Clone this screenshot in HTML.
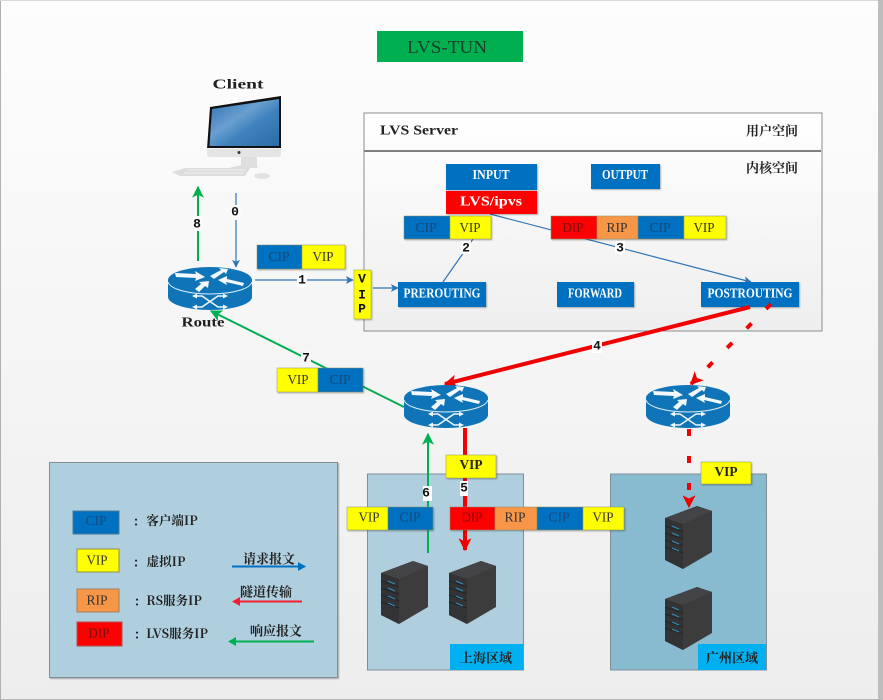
<!DOCTYPE html>
<html><head><meta charset="utf-8"><style>
html,body{margin:0;padding:0;background:#f4f4f4}
svg{display:block}
text{font-family:"Liberation Serif","Noto Serif CJK SC",serif;text-anchor:middle;dominant-baseline:central}
.b{font-weight:bold;font-size:14px;fill:#222}
.w{font-weight:bold;font-size:14px;fill:#fff}
.t{font-size:13.500px;fill:#333}
.tb{font-size:13.500px;fill:#174a7c}
.c{font-family:"Noto Serif CJK SC","Liberation Serif",serif;font-weight:bold;font-size:13px;fill:#222}
.n{font-family:"Liberation Mono",monospace;font-weight:bold;font-size:13px;fill:#111}
.lbg{fill:#fff}
</style></head><body>
<svg width="883" height="700" viewBox="0 0 883 700" xmlns="http://www.w3.org/2000/svg">
<defs>
<linearGradient id="bg" x1="0" y1="0" x2="0" y2="1"><stop offset="0" stop-color="#fdfdfd"/><stop offset="1" stop-color="#ededed"/></linearGradient>
<linearGradient id="box" x1="0" y1="0" x2="0" y2="1"><stop offset="0" stop-color="#ffffff"/><stop offset="1" stop-color="#eeeeee"/></linearGradient>
<linearGradient id="scr" x1="0" y1="0" x2="1" y2="1"><stop offset="0" stop-color="#2c6fb0"/><stop offset="0.4" stop-color="#6a9fd0"/><stop offset="0.6" stop-color="#3f82bd"/><stop offset="1" stop-color="#2a6ca6"/></linearGradient>
<marker id="ab" viewBox="0 0 10 10" refX="9" refY="5" markerWidth="8" markerHeight="8" markerUnits="userSpaceOnUse" orient="auto"><path d="M0 0L10 5L0 10L2.500 5Z" fill="#2e75b6"/></marker>
<marker id="ag" viewBox="0 0 10 10" refX="9" refY="5" markerWidth="12" markerHeight="12" markerUnits="userSpaceOnUse" orient="auto"><path d="M0 0L10 5L0 10L2.500 5Z" fill="#00b050"/></marker>
<marker id="ar" viewBox="0 0 10 10" refX="9" refY="5" markerWidth="13" markerHeight="13" markerUnits="userSpaceOnUse" orient="auto"><path d="M0 0L10 5L0 10L2.500 5Z" fill="#f00000"/></marker>
<filter id="s" x="-10%" y="-10%" width="125%" height="125%"><feDropShadow dx="1" dy="1" stdDeviation="0.7" flood-color="#000" flood-opacity="0.3"/></filter>
<g id="router">
<path d="M0 13V30C0 37 19 43 42 43S84 37 84 30V13Z" fill="#0f75b8"/>
<ellipse cx="42" cy="13" rx="42" ry="13" fill="#0f75b8"/>
<path d="M0 15C2 22 20 27 42 27S82 22 84 15" fill="none" stroke="#dff0fa" stroke-width="1"/>
<path d="M7 6L28 7L27 4L37 10L27 14L28 11L8 10Z M42 9L53 3L51 1L60 2L58 7L56 5L46 12Z M50 13L59 9L59 12L76 16L75 19L58 15L59 18Z M27 22L33 17L31 15L41 14L40 21L37 19L31 25Z" fill="#f2f8fc"/>
<path d="M28 29H34L50 40H56M28 40H34L50 29H56" fill="none" stroke="#f2f8fc" stroke-width="1.500"/>
<path d="M29 26.500L24 29L29 31.500ZM29 37.500L24 40L29 42.500ZM55 26.500L60 29L55 31.500ZM55 37.500L60 40L55 42.500Z" fill="#f2f8fc"/>
</g>
<g id="server">
<path d="M0 12L32 0L47 5V46L18 63L0 54Z" fill="#3c3c3c"/>
<path d="M0 12L32 0L47 5L18 18Z" fill="#444446"/>
<path d="M0 12L18 18V63L0 54Z" fill="#333335"/>
<path d="M0 20L18 26M0 27L18 33M0 34L18 40M0 41L18 47" stroke="#242424" stroke-width="1"/>
<path d="M7 20L14 23M7 27L14 30M7 35L14 38M7 42L14 45" stroke="#2f8fc0" stroke-width="1"/>
</g>
</defs>

<rect width="883" height="700" fill="url(#bg)"/>
<rect x="0" y="0" width="1" height="700" fill="#b0b0b0"/>
<rect x="0" y="0" width="883" height="1" fill="#d8d8d8"/>
<rect x="878" y="0" width="5" height="700" fill="#bdbdbd"/>
<rect x="0" y="699" width="883" height="1" fill="#b8b8b8"/>

<!-- title -->
<rect x="377" y="31" width="146" height="31" fill="#00b050"/>
<text x="447" y="47" textLength="80" lengthAdjust="spacingAndGlyphs" style="font-size:18px;fill:#17402a">LVS-TUN</text>

<!-- client -->
<text x="238" y="85" class="b" textLength="51" lengthAdjust="spacingAndGlyphs">Client</text>
<path d="M210 107L281 96V149H207Z" fill="#111"/>
<path d="M212 109L279 99V146H209.500Z" fill="url(#scr)"/>
<path d="M207 148H281V155Q281 157 278 157H210Q207 157 207 155Z" fill="#e4e4e4"/>
<path d="M207 148H281V149H207Z" fill="#f4f4f4"/>
<circle cx="239" cy="152.500" r="1.500" fill="#333"/>
<path d="M241 157H257V165L258 168H229L241 165Z" fill="#dedede"/>
<path d="M172 172L185 168H250L245 176H180Z" fill="#dcdcdc"/>
<path d="M188 170H246M184 173H244" stroke="#efefef" stroke-width="1"/>
<ellipse cx="262" cy="176" rx="8" ry="3" fill="#e2e2e2"/>

<!-- LVS server box -->
<rect x="364" y="113" width="458" height="218" fill="url(#box)" stroke="#8c8c8c" stroke-width="1"/>
<rect x="364" y="150" width="457" height="2" fill="#7f7f7f"/>
<text x="419" y="131" class="b" textLength="78" lengthAdjust="spacingAndGlyphs">LVS Server</text>
<text x="772" y="130" class="c">用户空间</text>
<text x="772" y="167" class="c">内核空间</text>

<!-- thin connectors (under tags) -->
<path d="M490 214L751 282" stroke="#2e75b6" stroke-width="1.200" fill="none" marker-end="url(#ab)"/>
<path d="M473 239L443 282" stroke="#2e75b6" stroke-width="1.200" fill="none"/>

<g filter="url(#s)">
<rect x="446" y="164" width="91" height="26" fill="#0070c0"/>
<rect x="446" y="191" width="91" height="23" fill="#ff0000"/>
<rect x="591" y="164" width="69" height="25" fill="#0070c0"/>
<rect x="398" y="282" width="88" height="25" fill="#0070c0"/>
<rect x="557" y="282" width="77" height="25" fill="#0070c0"/>
<rect x="701" y="282" width="98" height="25" fill="#0070c0"/>
</g>
<text x="491" y="175.500" class="w" textLength="37" lengthAdjust="spacingAndGlyphs">INPUT</text>
<text x="491" y="202" class="w" textLength="62" lengthAdjust="spacingAndGlyphs">LVS/ipvs</text>
<text x="625" y="175.500" class="w" textLength="46" lengthAdjust="spacingAndGlyphs">OUTPUT</text>
<text x="442" y="294" class="w" textLength="77" lengthAdjust="spacingAndGlyphs">PREROUTING</text>
<text x="595" y="294" class="w" textLength="54" lengthAdjust="spacingAndGlyphs">FORWARD</text>
<text x="750" y="294" class="w" textLength="85" lengthAdjust="spacingAndGlyphs">POSTROUTING</text>

<!-- tags in kernel -->
<g filter="url(#s)" stroke="#8f8f60" stroke-width="0.500">
<rect x="404" y="216" width="46" height="23" fill="#0070c0"/><rect x="450" y="216" width="41" height="23" fill="#ffff00"/>
<rect x="551" y="216" width="46" height="23" fill="#ff0000"/><rect x="597" y="216" width="41" height="23" fill="#f79646"/><rect x="638" y="216" width="46" height="23" fill="#0070c0"/><rect x="684" y="216" width="42" height="23" fill="#ffff00"/>
</g>
<text x="426" y="227.500" class="tb" textLength="21" lengthAdjust="spacingAndGlyphs">CIP</text><text x="470" y="227.500" class="t" textLength="21" lengthAdjust="spacingAndGlyphs">VIP</text>
<text x="573" y="227.500" class="t" style="fill:#7a1010" textLength="21" lengthAdjust="spacingAndGlyphs">DIP</text><text x="617" y="227.500" class="t" textLength="21" lengthAdjust="spacingAndGlyphs">RIP</text><text x="660" y="227.500" class="tb" textLength="21" lengthAdjust="spacingAndGlyphs">CIP</text><text x="704" y="227.500" class="t" textLength="21" lengthAdjust="spacingAndGlyphs">VIP</text>
<rect x="461" y="241" width="10" height="13" class="lbg"/><text x="466" y="248" class="n">2</text>
<rect x="615" y="241" width="10" height="13" class="lbg"/><text x="620" y="248" class="n">3</text>

<!-- client arrows -->
<path d="M198 261V187" stroke="#00b050" stroke-width="2" fill="none" marker-end="url(#ag)"/>
<rect x="192" y="216" width="11" height="15" fill="#fbfbfb"/><text x="197" y="224" class="n">8</text>
<path d="M236 193V267" stroke="#2e75b6" stroke-width="1.200" fill="none" marker-end="url(#ab)"/>
<rect x="231" y="205" width="10" height="15" fill="#fbfbfb"/><text x="235" y="212" class="n">0</text>

<use href="#router" x="168" y="267"/>
<text x="203" y="323" class="b" textLength="43" lengthAdjust="spacingAndGlyphs">Route</text>

<g filter="url(#s)" stroke="#8f8f60" stroke-width="0.500"><rect x="257" y="245" width="45" height="24" fill="#0070c0"/><rect x="302" y="245" width="43" height="24" fill="#ffff00"/></g>
<text x="279" y="256.500" class="tb" textLength="21" lengthAdjust="spacingAndGlyphs">CIP</text><text x="323" y="256.500" class="t" textLength="21" lengthAdjust="spacingAndGlyphs">VIP</text>
<path d="M255 280H353" stroke="#2e75b6" stroke-width="1.200" fill="none" marker-end="url(#ab)"/>
<rect x="297" y="273" width="10" height="14" fill="#fff"/><text x="302" y="280" class="n">1</text>
<g filter="url(#s)"><rect x="354" y="270" width="17" height="49" fill="#ffff00" stroke="#a8a850" stroke-width="0.600"/></g>
<text x="362" y="279" class="n">V</text><text x="362" y="295" class="n">I</text><text x="362" y="309" class="n">P</text>
<path d="M373 288H398" stroke="#2e75b6" stroke-width="1.200" fill="none" marker-end="url(#ab)"/>

<!-- regions -->
<rect x="367.500" y="474" width="156" height="196" fill="#afcfdf" stroke="#7f8f98" stroke-width="1"/>
<rect x="450" y="644" width="73" height="26" fill="#00b0f0"/>
<text x="486" y="657" class="c">上海区域</text>
<rect x="610.500" y="474" width="156" height="196" fill="#89bbd0" stroke="#7f8f98" stroke-width="1"/>
<rect x="698" y="644" width="68" height="26" fill="#00b0f0"/>
<text x="732" y="657" class="c">广州区域</text>

<use href="#server" x="381" y="561"/>
<use href="#server" x="449" y="561"/>
<use href="#server" x="665" y="506"/>
<use href="#server" x="665" y="587"/>

<!-- red 4 -->
<path d="M750 307L445 384" stroke="#f00000" stroke-width="4" fill="none" marker-end="url(#ar)"/>
<rect x="592" y="339" width="10" height="14" fill="#fff"/><text x="597" y="346" class="n">4</text>
<path d="M771 304L691 384" stroke="#f00000" stroke-width="4" stroke-dasharray="7 20.500" fill="none" marker-end="url(#ar)"/>

<!-- green 7 -->
<path d="M404 407L211 311" stroke="#00b050" stroke-width="2" fill="none" marker-end="url(#ag)"/>
<rect x="301" y="351" width="10" height="14" fill="#f8f8f8"/><text x="306" y="358" class="n">7</text>
<g filter="url(#s)" stroke="#8f8f60" stroke-width="0.500"><rect x="277" y="368" width="41" height="24" fill="#ffff00"/><rect x="318" y="368" width="45" height="24" fill="#0070c0"/></g>
<text x="298" y="379.500" class="t" textLength="21" lengthAdjust="spacingAndGlyphs">VIP</text><text x="340" y="379.500" class="tb" textLength="21" lengthAdjust="spacingAndGlyphs">CIP</text>

<use href="#router" x="404" y="385"/>
<use href="#router" x="646" y="385"/>

<!-- green 6 -->
<path d="M428 553V434" stroke="#00b050" stroke-width="2" fill="none" marker-end="url(#ag)"/>
<rect x="423" y="486" width="9" height="15" fill="#fff"/><text x="426" y="493" class="n">6</text>
<!-- red 5 -->
<path d="M465 428V550" stroke="#f00000" stroke-width="4" fill="none" marker-end="url(#ar)"/>
<!-- red dash guangzhou -->
<path d="M689 429V507" stroke="#f00000" stroke-width="4" stroke-dasharray="7 20" fill="none" marker-end="url(#ar)"/>

<g filter="url(#s)" stroke="#8f8f60" stroke-width="0.500">
<rect x="446" y="455" width="50" height="23" fill="#ffff00"/>
<rect x="701" y="462" width="50" height="22" fill="#ffff00"/>
<rect x="347" y="507" width="41" height="23" fill="#ffff00"/><rect x="388" y="507" width="45" height="23" fill="#0070c0"/>
<rect x="450" y="507" width="45" height="23" fill="#ff0000"/><rect x="495" y="507" width="42" height="23" fill="#f79646"/><rect x="537" y="507" width="46" height="23" fill="#0070c0"/><rect x="583" y="507" width="41" height="23" fill="#ffff00"/>
</g>
<text x="471" y="465.500" class="b" textLength="23" lengthAdjust="spacingAndGlyphs">VIP</text>
<text x="726" y="472.500" class="b" textLength="23" lengthAdjust="spacingAndGlyphs">VIP</text>
<rect x="460" y="481" width="8" height="15" fill="#fff"/><text x="464" y="488" class="n">5</text>
<text x="369" y="517" class="t" textLength="21" lengthAdjust="spacingAndGlyphs">VIP</text><text x="410" y="517" class="tb" textLength="21" lengthAdjust="spacingAndGlyphs">CIP</text>
<text x="472" y="517" class="t" style="fill:#7a1010" textLength="21" lengthAdjust="spacingAndGlyphs">DIP</text><text x="515" y="517" class="t" textLength="21" lengthAdjust="spacingAndGlyphs">RIP</text><text x="559" y="517" class="tb" textLength="21" lengthAdjust="spacingAndGlyphs">CIP</text><text x="603" y="517" class="t" textLength="21" lengthAdjust="spacingAndGlyphs">VIP</text>

<!-- legend -->
<rect x="49.500" y="462.500" width="288" height="215" fill="#afcfdf" stroke="#7f8f98" stroke-width="1" filter="url(#s)"/>
<rect x="73" y="511" width="46" height="23" fill="#0070c0" stroke="#4a7a9a" stroke-width="1"/>
<rect x="77" y="549" width="42" height="23" fill="#ffff00" stroke="#8f8f50" stroke-width="1"/>
<rect x="77" y="589" width="42" height="23" fill="#f79646" stroke="#a08060" stroke-width="1"/>
<rect x="77" y="622" width="45" height="24" fill="#ff0000" stroke="#b05050" stroke-width="1"/>
<text x="96" y="520.500" class="tb" textLength="21" lengthAdjust="spacingAndGlyphs">CIP</text>
<text x="97" y="560" class="t" textLength="21" lengthAdjust="spacingAndGlyphs">VIP</text>
<text x="97" y="600" class="t" textLength="21" lengthAdjust="spacingAndGlyphs">RIP</text>
<text x="99" y="633" class="t" style="fill:#7a1010" textLength="21" lengthAdjust="spacingAndGlyphs">DIP</text>
<text x="136" y="520" class="c">:</text><text x="172" y="520" class="c" style="font-size:12.500px">客户端IP</text>
<text x="136" y="561" class="c">:</text><text x="166" y="561" class="c" style="font-size:12.500px">虚拟IP</text>
<text x="137" y="600" class="c">:</text><text x="174" y="600" class="c" style="font-size:12.500px">RS服务IP</text>
<text x="137" y="633" class="c">:</text><text x="177" y="633" class="c" style="font-size:12.500px">LVS服务IP</text>
<text x="269" y="558" class="c">请求报文</text>
<text x="266" y="591" class="c">隧道传输</text>
<text x="276" y="630" class="c">响应报文</text>
<path d="M232 566.500H305" stroke="#0070c0" stroke-width="2" fill="none"/><path d="M298 562L306 566.500L298 571Z" fill="#0070c0"/>
<path d="M302 601.500H234" stroke="#f02030" stroke-width="2" fill="none"/><path d="M240 597L232 601.500L240 606Z" fill="#f02030"/>
<path d="M314 641.500H230" stroke="#00b050" stroke-width="2" fill="none"/><path d="M236 637L228 641.500L236 646Z" fill="#00b050"/>
</svg>
</body></html>
